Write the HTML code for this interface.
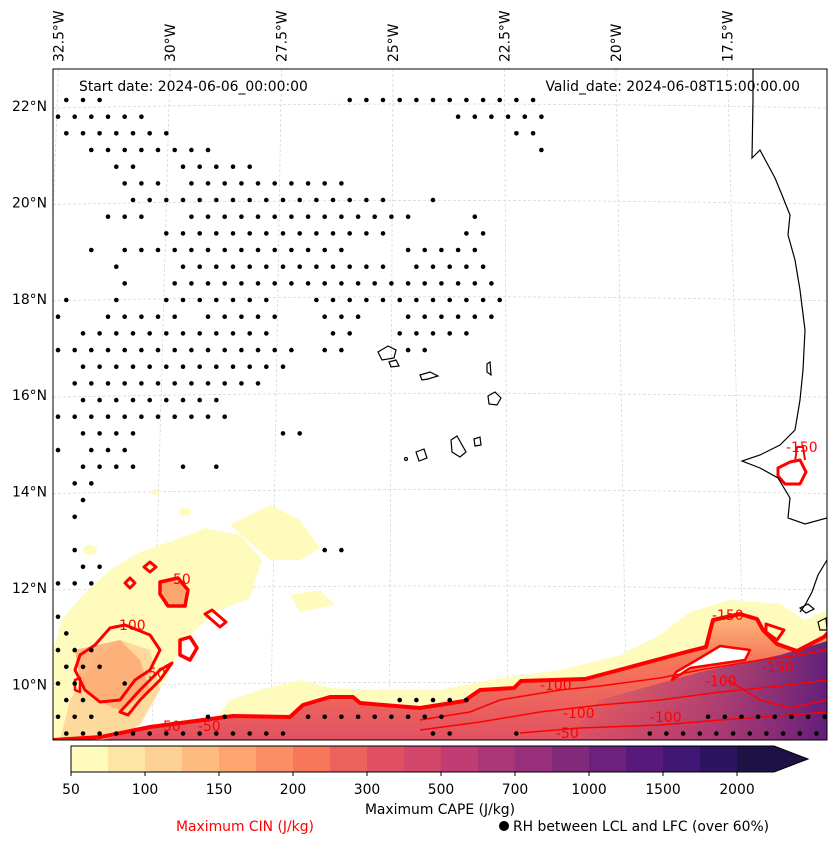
<!DOCTYPE html>
<html><head><meta charset="utf-8">
<style>
html,body{margin:0;padding:0;background:#fff;}
svg{display:block;font-family:"DejaVu Sans","Liberation Sans",sans-serif;}
</style></head>
<body>
<svg id="fig" width="837" height="845" viewBox="0 0 837 845" xmlns="http://www.w3.org/2000/svg">
<defs>
<clipPath id="mapclip"><rect x="53" y="69" width="774" height="671"/></clipPath>
<linearGradient id="bandV" x1="0" y1="0" x2="0" y2="1">
<stop offset="0" stop-color="#fdba7b"/><stop offset="0.35" stop-color="#f7775a"/><stop offset="1" stop-color="#e04f62"/>
</linearGradient>
<linearGradient id="purpleH" x1="0" y1="0" x2="1" y2="0">
<stop offset="0" stop-color="#972f7a" stop-opacity="0"/><stop offset="0.5" stop-color="#972f7a" stop-opacity="0.6"/><stop offset="1" stop-color="#571a7c" stop-opacity="0.95"/>
</linearGradient>
</defs>
<g id="map" clip-path="url(#mapclip)">
<g id="grid"></g>
<g>
<path d="M53,650 L62,620 L80,598 L110,570 L140,552 L175,540 L205,528 L240,535 L262,560 L250,598 L215,612 L185,640 L160,690 L140,720 L120,740 L53,740Z" fill="#fefbbd"/>
<path d="M230,525 L270,505 L300,520 L320,548 L300,560 L270,560Z" fill="#fefbbd"/>
<path d="M290,595 L320,590 L335,605 L300,612Z" fill="#fefbbd"/>
<ellipse cx="185" cy="512" rx="6" ry="4" fill="#fefbbd"/>
<ellipse cx="155" cy="492" rx="4" ry="3" fill="#fefbbd"/>
<ellipse cx="90" cy="550" rx="7" ry="5" fill="#fefbbd"/>
<path d="M200,740 L230,700 L260,690 L300,680 L330,688 L380,690 L440,690 L500,678 L560,670 L620,655 L660,635 L690,612 L730,600 L780,604 L805,620 L827,610 L827,740Z" fill="#fefbbd"/>
<path d="M70,700 L95,660 L120,640 L150,650 L160,690 L140,725 L110,740 L60,740Z" fill="#fdd193" opacity="0.8"/>
<path d="M101,740 L150,727 L233,716 L290,717 L303,705 L330,697 L353,697 L360,703 L420,708 L464,701 L480,690 L514,688 L521,681 L585,679 L619,670 L686,652 L706,647 L713,620 L740,614 L757,619 L763,630 L777,644 L797,651 L824,637 L831,630 L831,745 L101,745Z" fill="url(#bandV)"/>
<path d="M560,745 L600,700 L700,672 L780,655 L831,640 L831,745Z" fill="url(#purpleH)"/>
<path d="M672,680 L690,668 L745,660 L750,650 L720,646 L700,658 L676,672Z" fill="#fff"/>
<path d="M160,582 L185,580 L187,606 L165,606Z" fill="#fca56f"/>
<path d="M75,650 L120,640 L140,660 L150,690 L120,710 L95,700 L80,680Z" fill="#fca56f" opacity="0.8"/>
</g>
<g fill="none" stroke="#ff0000" stroke-linejoin="round">
<path d="M53,740 L101,737 L150,727 L233,716 L290,717 L303,705 L330,697 L353,697 L360,703 L420,708 L464,701 L480,690 L514,688 L521,681 L585,679 L619,670 L686,652 L706,647 L713,620 L740,614 L757,619 L763,630 L777,644 L797,651 L824,637 L831,630" stroke-width="4"/>
<path d="M766,624 L784,630 L777,640 L766,632Z" stroke-width="3"/>
<path d="M672,680 L690,668 L745,660 L750,650 L720,646 L700,658 L676,672Z" stroke-width="2.5"/>
<path d="M420,720 L470,712 L500,700 L560,690 L600,686 L660,678 L700,670 L760,660 L800,655 L827,650" stroke-width="1.5"/>
<path d="M420,730 L480,722 L540,712 L600,705 L660,700 L720,692 L780,686 L827,680" stroke-width="1.5"/>
<path d="M520,733 L580,728 L660,725 L720,720 L790,715 L827,712" stroke-width="1.5"/>
<path d="M728,680 L760,700 L790,708 L827,700" stroke-width="1.5"/>
<path d="M150,562 L156,567 L150,572 L144,567Z" stroke-width="3"/>
<path d="M130,578 L135,583 L130,588 L125,583Z" stroke-width="3"/>
<path d="M160,582 L178,578 L188,590 L185,606 L168,606 L160,594Z" stroke-width="3.5"/>
<path d="M205,614 L212,610 L226,622 L220,627Z" stroke-width="3"/>
<path d="M180,640 L190,637 L197,648 L190,660 L180,655Z" stroke-width="3.5"/>
<path d="M110,628 L125,625 L150,635 L160,650 L150,670 L135,680 L120,700 L100,702 L85,690 L75,670 L80,655 L95,645Z" stroke-width="3"/>
<path d="M120,712 L140,690 L160,670 L172,663 L160,680 L140,700 L128,715Z" stroke-width="3"/>
<path d="M75,680 L80,678 L80,692 L75,690Z" stroke-width="2.5"/>
<path d="M778,468 L790,462 L800,460 L806,472 L800,484 L785,484 L778,476Z" stroke-width="3"/>
<path d="M795,462 L797,447 L803,447 L805,460" stroke-width="2"/>
</g>
<g fill="#ff0000" font-size="13.9">
<text x="168" y="584">-50</text>
<text x="114" y="630">-100</text>
<text x="143" y="678">-50</text>
<text x="158" y="731">-50</text>
<text x="198" y="731">-50</text>
<text x="540" y="690">-100</text>
<text x="563" y="718">-100</text>
<text x="556" y="738">-50</text>
<text x="650" y="722">-100</text>
<text x="705" y="686">-100</text>
<text x="712" y="620">-150</text>
<text x="762" y="672">-150</text>
<text x="786" y="452">-150</text>
</g>
<g id="dots"></g>
<g fill="none" stroke="#000" stroke-width="1.2">
<path d="M753,69 L753,100 L752,158 L760,150 L768,165 L775,178 L782,195 L790,215 L788,235 L795,260 L800,290 L805,330 L803,370 L800,400 L795,430 L780,445 L760,455 L742,461 L760,468 L778,478 L790,498 L788,518 L805,524 L827,518"/>
<path d="M827,560 L818,575 L812,592 L805,605 L800,612"/>
<path d="M378,352 L388,346 L396,350 L394,358 L382,360Z"/>
<path d="M389,362 L396,360 L399,366 L391,367Z"/>
<path d="M420,375 L430,372 L438,376 L428,379 L422,380Z"/>
<path d="M487,364 L490,362 L491,375 L487,372Z"/>
<path d="M488,396 L495,392 L501,398 L497,405 L489,404Z"/>
<path d="M451,440 L457,436 L466,452 L460,457 L452,452Z"/>
<path d="M474,439 L480,437 L481,445 L475,446Z"/>
<path d="M416,452 L424,449 L427,458 L419,461Z"/>
<circle cx="406" cy="459" r="1.5"/>
<path d="M800,608 L808,604 L814,609 L806,613Z"/>
<path d="M818,622 L826,618 L827,630 L820,630Z"/>
</g>
</g>
<rect x="53" y="69" width="774" height="671" fill="none" stroke="#000" stroke-width="1"/>
<g id="lonlabels" font-size="13.9" fill="#000"></g>
<g id="latlabels" font-size="13.9" fill="#000" text-anchor="end"></g>
<text x="79" y="91" font-size="13.9">Start date: 2024-06-06_00:00:00</text>
<text x="800" y="91" font-size="13.9" text-anchor="end">Valid_date: 2024-06-08T15:00:00.00</text>
<g id="cbar"></g>
<text x="440" y="814" font-size="13.9" text-anchor="middle">Maximum CAPE (J/kg)</text>
<text x="245" y="831" font-size="13.9" text-anchor="middle" fill="#ff0000">Maximum CIN (J/kg)</text>
<circle cx="504" cy="826" r="5" fill="#000"/>
<text x="513" y="831" font-size="13.9">RH between LCL and LFC (over 60%)</text>
</svg>
<script>
const NS="http://www.w3.org/2000/svg";
const cbarColors=["#fefbbd","#fde5a6","#fdd193","#fdbb80","#fca56f","#fb8f63","#f7775a","#ec625c","#e04f62","#d2466b","#bf3d72","#ab3677","#972f7a","#812a7c","#6c227d","#571a7c","#421675","#2d1460","#1e1145"];
const cbarTickLabels=["50","100","150","200","300","500","700","1000","1500","2000"];
const lonLabels=["32.5°W","30°W","27.5°W","25°W","22.5°W","20°W","17.5°W"];
const lonValues=[-32.5,-30,-27.5,-25,-22.5,-20,-17.5];
const latLabels=["22°N","20°N","18°N","16°N","14°N","12°N","10°N"];
const latValues=[22,20,18,16,14,12,10];
// RH dot grid: per row, ranges of column indices
const dotRows=[
[[0,2],[17,28]],[[0,5],[24,29]],[[0,6],[27,28]],[[2,9],[29,29]],[[3,4],[7,11]],
[[4,6],[8,17]],[[4,19],[22,22]],[[3,5],[8,21],[25,25]],[[6,19],[24,25]],[[2,2],[4,17],[21,25]],
[[3,3],[7,19],[21,25]],[[4,4],[7,26]],[[0,0],[3,3],[6,12],[15,26]],[[0,0],[3,7],[9,13],[16,18],[21,26]],[[1,12],[16,17],[20,24]],
[[0,14],[16,17],[21,22]],[[1,13]],[[1,12]],[[1,9]],[[0,10]],
[[1,4],[13,14]],[[0,0],[2,4]],[[1,4],[7,7],[9,9]],[[1,2]],[[1,1]],
[[1,1]],[],[[1,1],[16,17]],[[1,2]],[[0,2]],
[],[[0,0]],[[0,0]],[[0,2]],[[0,2]],
[[0,1],[4,4]],[[0,1],[20,24]],[[0,2],[9,10],[15,23],[39,46]],[[0,13],[22,23],[27,27],[35,45]]
];
function lonX(lon){return 170+(lon+30)*44.6;}
function latY(lat){return 106+(22-lat)*48.2;}
const rowY=r=>100+r*16.67;
const colX=(r,k)=>(r%2===0?66.3:58)+k*16.67;

const grid=document.getElementById('grid');
lonValues.forEach(v=>{
  const x=lonX(v);
  const l=document.createElementNS(NS,'line');
  l.setAttribute('x1',x);l.setAttribute('y1',69);
  l.setAttribute('x2',x+(x-450)*0.065);l.setAttribute('y2',740);
  l.setAttribute('stroke','#d8d8d8');l.setAttribute('stroke-width','0.8');l.setAttribute('stroke-dasharray','3,2');
  
  
  grid.appendChild(l);
});
latValues.forEach(v=>{
  const y=latY(v);
  const l=document.createElementNS(NS,'path');
  l.setAttribute('d',`M53,${y+2} Q440,${y-6} 827,${y+2}`);
  l.setAttribute('fill','none');
  l.setAttribute('stroke','#d8d8d8');l.setAttribute('stroke-width','0.8');l.setAttribute('stroke-dasharray','3,2');
  
  
  grid.appendChild(l);
});
const dots=document.getElementById('dots');
dotRows.forEach((ranges,r)=>{
  ranges.forEach(([a,b])=>{
    for(let k=a;k<=b;k++){
      const c=document.createElementNS(NS,'circle');
      c.setAttribute('cx',colX(r,k).toFixed(1));c.setAttribute('cy',rowY(r).toFixed(1));c.setAttribute('r','2.3');
      c.setAttribute('fill','#000');
      
      
      dots.appendChild(c);
    }
  });
});
const lonG=document.getElementById('lonlabels');
lonLabels.forEach((t,i)=>{
  const x=lonX(lonValues[i])+5;
  const e=document.createElementNS(NS,'text');
  e.setAttribute('transform',`translate(${x},62) rotate(-90)`);
  e.textContent=t;
  
  
  lonG.appendChild(e);
});
const latG=document.getElementById('latlabels');
latLabels.forEach((t,i)=>{
  const e=document.createElementNS(NS,'text');
  e.setAttribute('x',47);e.setAttribute('y',latY(latValues[i])+5);
  e.textContent=t;
  
  
  latG.appendChild(e);
});
const cb=document.getElementById('cbar');
const cx0=71,cy0=746,ch=26,sw=37;
cbarColors.forEach((col,i)=>{
  const r=document.createElementNS(NS,'rect');
  r.setAttribute('x',cx0+i*sw);r.setAttribute('y',cy0);r.setAttribute('width',sw+0.5);r.setAttribute('height',ch);
  r.setAttribute('fill',col);
  
  
  cb.appendChild(r);
});
const xe=cx0+cbarColors.length*sw;
const tri=document.createElementNS(NS,'path');
tri.setAttribute('d',`M${xe},${cy0} L808,${cy0+ch/2} L${xe},${cy0+ch}Z`);
tri.setAttribute('fill','#1e1145');


cb.appendChild(tri);
const out=document.createElementNS(NS,'path');
out.setAttribute('d',`M${cx0},${cy0} L${xe},${cy0} L808,${cy0+ch/2} L${xe},${cy0+ch} L${cx0},${cy0+ch}Z`);
out.setAttribute('fill','none');out.setAttribute('stroke','#000');out.setAttribute('stroke-width','1');


cb.appendChild(out);
cbarTickLabels.forEach((t,i)=>{
  const x=cx0+i*2*sw;
  const l=document.createElementNS(NS,'line');
  l.setAttribute('x1',x);l.setAttribute('x2',x);l.setAttribute('y1',cy0+ch);l.setAttribute('y2',cy0+ch+4);
  l.setAttribute('stroke','#000');
  
  
  cb.appendChild(l);
  const e=document.createElementNS(NS,'text');
  e.setAttribute('x',x);e.setAttribute('y',794);e.setAttribute('text-anchor','middle');e.setAttribute('font-size','13.9');
  e.textContent=t;
  
  
  cb.appendChild(e);
});
</script>
</body></html>
